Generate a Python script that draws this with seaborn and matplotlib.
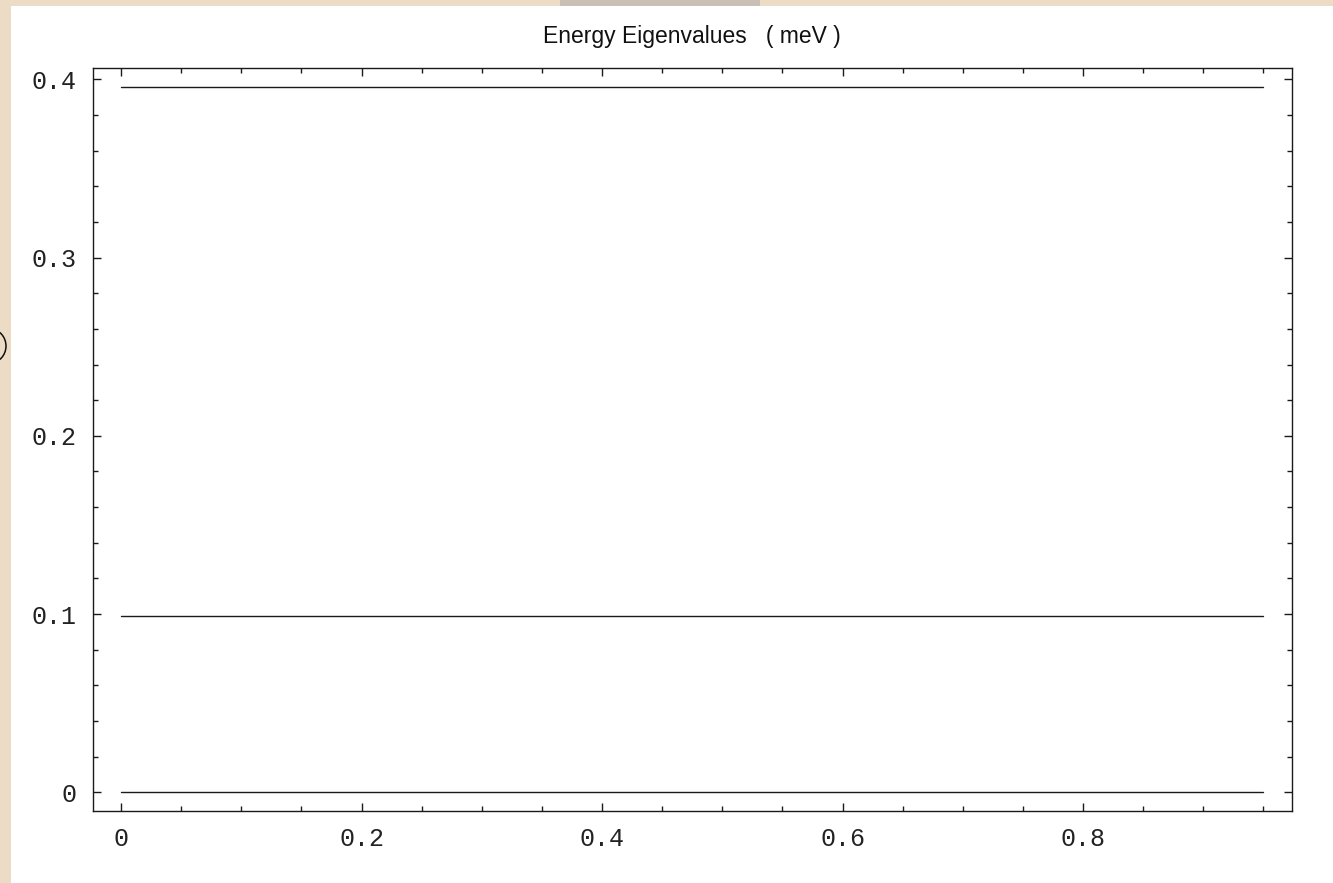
import numpy as np
import pandas as pd
import matplotlib
matplotlib.use("Agg")
import matplotlib.pyplot as plt
from matplotlib import font_manager
from matplotlib.patches import Rectangle, Ellipse
from matplotlib.ticker import MultipleLocator
import seaborn as sns

# Energy eigenvalues (meV) as a function of the field parameter
field = [0.0, 0.95]
levels = ["E0", "E1", "E2"]
energies = [0.0, 0.0989, 0.3956]

xticks = [0.0, 0.2, 0.4, 0.6, 0.8]
xticklabels = ["0", "0.2", "0.4", "0.6", "0.8"]
yticks = [0.0, 0.1, 0.2, 0.3, 0.4]
yticklabels = ["0", "0.1", "0.2", "0.3", "0.4"]

rows = [(lvl, x, e) for lvl, e in zip(levels, energies) for x in field]
df = pd.DataFrame(rows, columns=["level", "field", "energy"])

sns.set_theme(style="white")

installed = {f.name for f in font_manager.fontManager.ttflist}
mono = "Liberation Mono" if "Liberation Mono" in installed else "DejaVu Sans Mono"
narrow = "Liberation Sans Narrow" if "Liberation Sans Narrow" in installed else "Liberation Sans"
plt.rcParams["font.family"] = [mono, "DejaVu Sans"]

W, H, DPI = 1333, 883, 100
fig = plt.figure(figsize=(W / DPI, H / DPI), dpi=DPI, facecolor="white")

# parchment border along the top and left edges
paper = "#ecdcc6"
fig.patches.append(Rectangle((0, 1 - 6 / H), 1, 6 / H, transform=fig.transFigure,
                             facecolor=paper, edgecolor="none", zorder=-5))
fig.patches.append(Rectangle((0, 0), 11 / W, 1, transform=fig.transFigure,
                             facecolor=paper, edgecolor="none", zorder=-5))
fig.patches.append(Rectangle((560 / W, 1 - 6 / H), 200 / W, 6 / H, transform=fig.transFigure,
                             facecolor="#c9bfb4", edgecolor="none", zorder=-4))
fig.patches.append(Ellipse((-10 / DPI, (H - 346) / DPI), 0.32, 0.34,
                           transform=fig.dpi_scale_trans, facecolor="none",
                           edgecolor="#111111", linewidth=1.1, zorder=5))

ax = fig.add_axes([93 / W, (H - 810.5) / H, (1292 - 93) / W, (810.5 - 68.3) / H])
ax.set_facecolor("white")

sns.lineplot(data=df, x="field", y="energy", units="level", estimator=None,
             color="#1a1a1a", linewidth=1.0, legend=False, ax=ax)

ax.set_xlim(-0.0233, 0.9738)
ax.set_ylim(-0.0102, 0.4062)
ax.set_xlabel("")
ax.set_ylabel("")

ax.set_xticks(xticks)
ax.set_xticklabels(xticklabels)
ax.set_yticks(yticks)
ax.set_yticklabels(yticklabels)
ax.xaxis.set_minor_locator(MultipleLocator(0.05))
ax.yaxis.set_minor_locator(MultipleLocator(0.02))

for side in ax.spines.values():
    side.set_visible(True)
    side.set_color("#1a1a1a")
    side.set_linewidth(1.0)

ax.tick_params(which="both", direction="in", top=True, right=True,
               bottom=True, left=True, color="#1a1a1a", width=1.0)
ax.tick_params(which="major", length=6)
ax.tick_params(which="minor", length=3.6)
ax.tick_params(axis="x", which="major", labelsize=18, pad=12, labelcolor="#222222")
ax.tick_params(axis="y", which="major", labelsize=18, pad=12, labelcolor="#222222")

fig.text(692 / W, 1 - 43 / H, "Energy Eigenvalues   ( meV )", ha="center",
         va="baseline", fontsize=16.5, family=[narrow, "DejaVu Sans"],
         color="#111111")

fig.savefig("out.png", dpi=DPI, facecolor=fig.get_facecolor())
